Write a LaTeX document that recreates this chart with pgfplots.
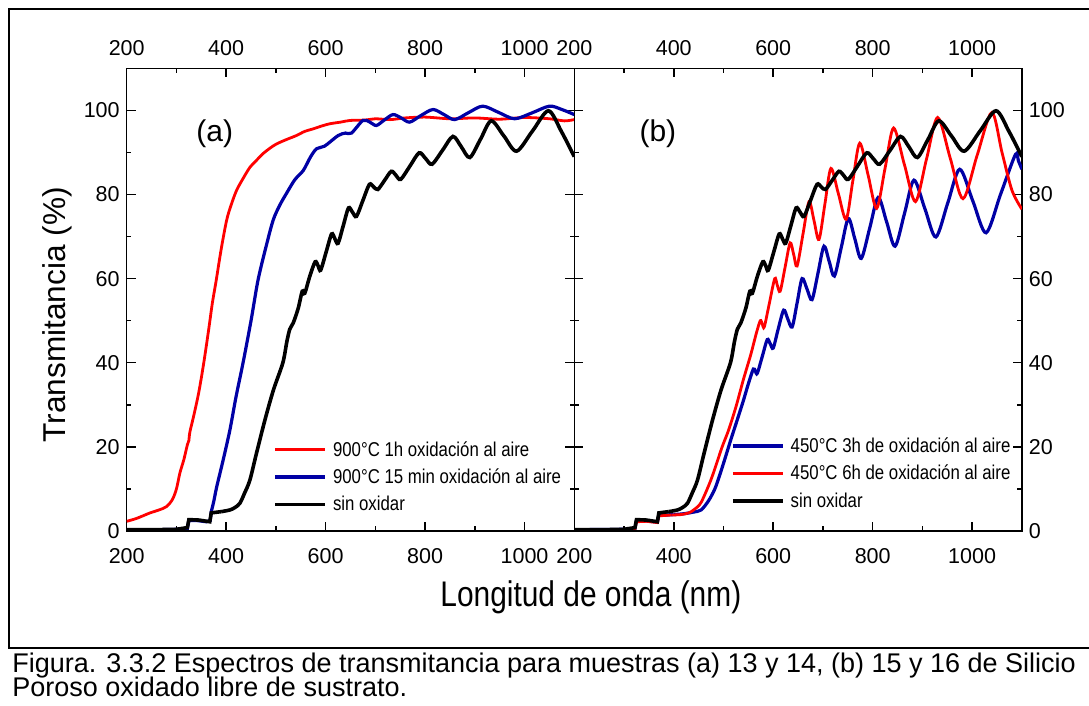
\documentclass[border=0pt]{standalone}
\usepackage{pgfplots}
\pgfplotsset{compat=1.18}
\usepackage{pgfplotstable}
\usepackage{fontspec}
\setmainfont{Liberation Sans}
\newfontfamily\narrowfont[FakeStretch=0.84]{Liberation Sans}
\definecolor{myred}{RGB}{255,0,0}
\definecolor{myblue}{RGB}{0,0,165}

\pgfplotstableread{
x y
200 2.3
220 3.0
247 4.3
265 5.0
280 5.8
292 7.5
300 10
307 13.8
315 17
322 20.5
325 21.5
327 23.5
335 27.5
345 33
355 40
365 48
372 54
380 59.6
390 67
401 73.9
410 77.5
421 81
435 84
448 86.5
460 88
474 89.7
488 91
501 92
520 93
541 94
558 95
575 95.6
590 96.2
608 96.8
630 97.2
649 97.6
680 97.7
700 98
730 97.8
760 98.2
800 98.4
850 98
900 98.2
950 97.9
1000 98.3
1050 98
1080 97.5
1100 97.8
}\redA

\pgfplotstableread{
x y
200 0.3
260 0.3
300 0.4
322 0.6
325 2.5
340 2.5
360 2.2
368 2.5
370 4.6
375 7
381 10.5
394 16.9
407.5 24
420 32
434 40
450 50
464 59.6
480 67.5
494.5 73.9
508 77.5
521 80.2
538 83.5
555 85.7
570 89
582 90.9
598 91.5
625 94
640 94.6
652 94.6
675 97.6
689 97.2
702 96.4
718 97.7
735.5 99
752 98.2
769 97.2
792 98.8
816 100.2
838 99
859.5 97.8
888 99.5
916 101
948 99.5
980 98
1015 99.4
1050 101
1075 100.2
1100 99
}\blueA

\pgfplotstableread{
x y
200 0.3
250 0.3
300 0.4
322 0.8
325 2.7
345 2.6
367 2.2
370 4.3
390 4.6
407.5 5
418 5.6
427.6 6.6
437 9
447.7 12.1
461 18.5
478 26.4
495 33.5
514 40
522 45
528 48
535 49.5
545 53
553 57
558 56.5
568 60.5
579 64
585 63
590 62
601 66.3
612 70.6
618.5 69.5
625 68.4
635.5 72.6
646 76.8
654 75.8
662 74.8
675 78.6
688 82.4
696.5 81.8
705 81.2
718.5 83.35
732 85.5
741.5 84.55
751 83.6
769.5 86.75
788 89.9
801 88.55
814 87.2
835 90.5
856 93.8
873 91.3
890 88.8
911.5 93.15
933 97.5
958.5 93.9
984 90.3
1016 95.1
1048 99.9
1074 95
1100 89
}\blackA

\pgfplotstableread{
x y
200 0.3
300 0.4
322 0.6
325 2.4
345 2.4
367 2.1
370 3.7
400 3.9
420 4.1
440 4.5
455 5
470 7.2
482.6 10
493 13.5
503.5 17.4
515 21.8
527.6 26.4
540 31
550 35
560 38.5
564 38
568 37.5
578 41.5
588 45.5
594 44.5
600 43.5
610 48
621 52.5
629 50.5
638 48.5
648 54.2
658 60
668 57.5
678 55
690 61.3
702 67.7
712.5 64.1
723 60.6
737 67.5
751 74.3
764 69.5
777 64.8
794 72
811 79.3
828 73.5
845 67.7
864 75.5
883 83.4
905 76.6
927 69.9
951 78
975 86
1001.5 78.4
1028 70.9
1057 80
1087 89.5
1093 88
1100 86
}\blueB

\pgfplotstableread{
x y
200 0.2
300 0.3
322 0.6
325 2.2
345 2.3
367 2.0
370 3.6
395 3.8
414 3.9
430 4.3
441 5.1
455 6.8
475.8 12.5
496.7 19.8
510 23.9
525 29.5
540 36
555 42
566 47
574 50
578 49.2
582 48.5
592 54
603 60
608 58.5
614 57
624 62.8
634 68.5
641 65.8
648 63
660 70.7
672 78.3
682 73.8
692 69.3
704 77.8
716 86.2
731 80.2
746.6 74.1
760 83.2
774 92.2
791 84.5
808 76.7
825 86.3
842 95.8
864 87
886 78.3
908 88.3
930.6 98.3
956 88.6
981.6 79
1010 89.3
1039.5 99.5
1060 90
1080 81
1100 76.5
}\redB

\begin{document}
\begin{tikzpicture}
\useasboundingbox (0,0) rectangle (544.5pt,353pt);
% frame
\draw[line width=0.9pt] (560pt,348.5pt) -- (4.5pt,348.5pt) -- (4.5pt,29pt) -- (560pt,29pt);

\pgfplotsset{
  panel/.style={
    scale only axis, width=223.8pt, height=231.35pt,
    xmin=200, xmax=1100, ymin=0, ymax=110,
    xtick={200,400,600,800,1000}, minor xtick={300,500,700,900,1100},
    ytick={0,20,40,60,80,100}, minor ytick={10,30,50,70,90,110},
    tick align=inside,
    major tick length=4.5pt, minor tick length=2.3pt,
    axis line style={line width=0.75pt},
    every tick/.style={line width=0.75pt, black},
    tick label style={font=\fontsize{10.75}{12}\selectfont},
    /pgf/number format/assume math mode=true,
    /pgf/number format/1000 sep={},
    legend cell align=left,
    legend image code/.code={\draw[##1] (0pt,0pt) -- (25pt,0pt);},
  },
  lg/.style={legend style={draw=none, fill=none, inner sep=0pt, column sep=3pt,
      font=\narrowfont\fontsize{10}{12}\selectfont,
      nodes={text height=7.5pt, text depth=1pt, inner ysep=2.6pt, inner xsep=0pt}}},
}

% left panel
\begin{axis}[panel, lg, at={(63.35pt,87.5pt)}, anchor=south west,
  xticklabel shift=5pt,
  ylabel={Transmitancia (\%)},
  ylabel style={at={(axis description cs:-0.1557,0.467)}, anchor=center, font=\fontsize{15.8}{18}\selectfont},
  xlabel={\narrowfont Longitud de onda (nm)},
  xlabel style={at={(axis description cs:1.037,-0.1426)}, anchor=center, font=\fontsize{17.8}{20}\selectfont},
  legend style={at={(axis description cs:0.3269,0.2064)}, anchor=north west},
]
\addplot[myred, line width=1.4pt, smooth] table {\redA};
\addlegendentry{900°C 1h oxidación al aire}
\addplot[myblue, line width=1.6pt, smooth] table[restrict x to domain=370:1100] {\blueA};
\addlegendentry{900°C 15 min oxidación al aire}
\addplot[myblue, line width=1.6pt, forget plot] table[restrict x to domain=200:370] {\blueA};
\addplot[black, line width=1.8pt, smooth] table[restrict x to domain=390:1100] {\blackA};
\addlegendentry{sin oxidar}
\addplot[black, line width=1.8pt, forget plot] table[restrict x to domain=200:390] {\blackA};
\node[font=\fontsize{15}{18}\selectfont] at (axis cs:377,94.5) {(a)};
\end{axis}
\begin{axis}[panel, at={(63.35pt,87.5pt)}, anchor=south west,
  hide y axis, xticklabel pos=upper, xticklabel shift=3pt]
\end{axis}

% right panel
\begin{axis}[panel, lg, at={(287.15pt,87.5pt)}, anchor=south west,
  xticklabel shift=5pt,
  yticklabel pos=right,
  legend style={at={(axis description cs:0.3495,0.214)}, anchor=north west},
]
\addplot[myblue, line width=1.6pt, smooth] table[restrict x to domain=395:1100] {\blueB};
\addlegendentry{450°C 3h de oxidación al aire}
\addplot[myblue, line width=1.6pt, forget plot] table[restrict x to domain=200:400] {\blueB};
\addplot[myred, line width=1.4pt, smooth] table[restrict x to domain=395:1100] {\redB};
\addlegendentry{450°C 6h de oxidación al aire}
\addplot[myred, line width=1.4pt, forget plot] table[restrict x to domain=200:395] {\redB};
\addplot[black, line width=1.8pt, smooth] table[restrict x to domain=390:1100] {\blackA};
\addlegendentry{sin oxidar}
\addplot[black, line width=1.8pt, forget plot] table[restrict x to domain=200:390] {\blackA};
\node[font=\fontsize{15}{18}\selectfont] at (axis cs:368,94.5) {(b)};
\end{axis}
\begin{axis}[panel, at={(287.15pt,87.5pt)}, anchor=south west,
  hide y axis, xticklabel pos=upper, xticklabel shift=3pt]
\end{axis}

% caption
\node[anchor=base west, font=\fontsize{13.5}{15}\selectfont, inner sep=0pt] at (6pt,16.5pt)
  {Figura. 3.3.2 Espectros de transmitancia para muestras (a) 13 y 14, (b) 15 y 16 de Silicio};
\node[anchor=base west, font=\fontsize{13.5}{15}\selectfont, inner sep=0pt] at (6pt,4.5pt)
  {Poroso oxidado libre de sustrato.};
\end{tikzpicture}
\end{document}
